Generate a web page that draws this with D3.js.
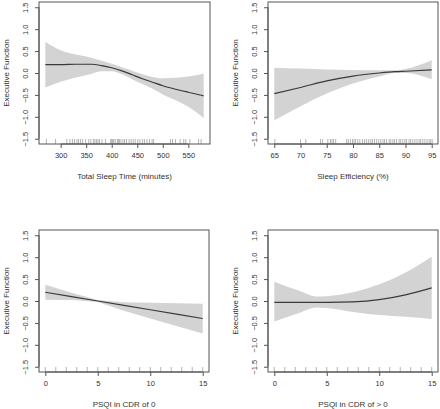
<!DOCTYPE html>
<html>
<head>
<meta charset="utf-8">
<script src="https://cdn.jsdelivr.net/npm/d3@7"></script>
<style>
html,body{margin:0;padding:0;background:#fff;}
svg{display:block;font-family:"Liberation Sans",Arial,Helvetica,sans-serif;}
</style>
</head>
<body>
<svg id="chart" width="440" height="409"></svg>
<script>
// ---------- Data ----------
const yTicks = [-1.5, -1.0, -0.5, 0.0, 0.5, 1.0, 1.5];
const yTitle = "Executive Function";

// Panel 1: Total Sleep Time
const tstX     = [270, 300, 330, 360, 380, 400, 420, 440, 460, 480, 500, 525, 550, 580];
const tstFit   = [0.19, 0.19, 0.20, 0.20, 0.17, 0.12, 0.05, -0.04, -0.13, -0.21, -0.29, -0.37, -0.44, -0.52];
const tstHi    = [0.71, 0.52, 0.42, 0.35, 0.28, 0.21, 0.13, 0.05, -0.03, -0.09, -0.12, -0.11, -0.08, -0.01];
const tstLo    = [-0.33, -0.20, -0.10, -0.02, 0.04, 0.04, -0.03, -0.14, -0.25, -0.36, -0.49, -0.62, -0.77, -1.03];
const tstRug   = [272, 290, 312, 318, 323, 327, 332, 335, 339, 343, 349, 355, 359, 364, 367, 370, 373, 376, 381, 388,
                  398, 400, 402, 404, 407, 411, 413, 415, 418, 422, 425, 429, 434, 438, 442, 446, 451, 455, 460, 464,
                  469, 474, 479, 482, 515, 519, 525, 534, 541, 545, 553, 570, 575];
const tstTicks = [300, 350, 400, 450, 500, 550];
const tstTitle = "Total Sleep Time (minutes)";

// Panel 2: Sleep Efficiency
const seX     = [65, 70, 75, 80, 85, 88, 90, 95];
const seFit   = [-0.47, -0.33, -0.18, -0.07, 0.00, 0.03, 0.04, 0.07];
const seHi    = [0.12, 0.10, 0.08, 0.07, 0.06, 0.06, 0.09, 0.29];
const seLo    = [-1.08, -0.76, -0.47, -0.24, -0.08, 0.00, 0.00, -0.14];
const seRug   = [65.1, 70.0, 71.0, 73.8, 74.2, 75.2, 75.7, 76.0, 76.3, 76.7, 78.8, 79.1, 79.5, 79.9, 80.2, 80.5, 80.9,
                 81.3, 81.8, 82.2, 82.6, 83.0, 83.4, 83.7, 84.1, 84.5, 84.9, 85.3, 85.7, 86.0, 86.4, 86.9, 87.2, 87.6,
                 87.9, 88.3, 88.8, 89.1, 89.5, 89.9, 90.2, 90.7, 91.0, 91.4, 91.8, 92.2, 92.6, 92.9, 93.3, 93.7, 94.1,
                 94.5, 94.8, 95.1];
const seTicks = [65, 70, 75, 80, 85, 90, 95];
const seTitle = "Sleep Efficiency (%)";

// Panel 3: PSQI in CDR of 0
const p0X     = [0, 2.5, 5, 7.5, 10, 12.5, 15];
const p0Fit   = [0.20, 0.10, 0.00, -0.10, -0.20, -0.30, -0.40];
const p0Hi    = [0.37, 0.19, 0.02, -0.03, -0.04, -0.05, -0.06];
const p0Lo    = [0.03, 0.02, -0.02, -0.22, -0.40, -0.57, -0.74];
const p0Rug   = [0, 1, 2, 3, 4, 5, 6, 7, 8, 9, 10, 11, 12, 13, 14, 15];
const p0Ticks = [0, 5, 10, 15];
const p0Title = "PSQI in CDR of 0";

// Panel 4: PSQI in CDR of > 0
const p1X     = [0, 2.5, 4, 5, 7.5, 10, 12.5, 15];
const p1Fit   = [-0.03, -0.03, -0.03, -0.03, -0.02, 0.03, 0.14, 0.30];
const p1Hi    = [0.44, 0.22, 0.10, 0.11, 0.20, 0.38, 0.65, 1.01];
const p1Lo    = [-0.47, -0.26, -0.15, -0.16, -0.25, -0.32, -0.36, -0.41];
const p1Rug   = [0, 1, 2, 3, 4, 5, 6, 7, 8, 9, 10, 11, 12, 13, 14, 15];
const p1Ticks = [0, 5, 10, 15];
const p1Title = "PSQI in CDR of > 0";

// ---------- Drawing ----------
const svg = d3.select("#chart");
const boxCol = "#555", textCol = "#333";

function pad(ext) { const d = (ext[1] - ext[0]) * 0.04; return [ext[0] - d, ext[1] + d]; }

function panel(cfg) {
  const {left, right, top, bottom, xs, fit, hi, lo, rug, xTicks, xTitle, curve} = cfg;
  const x = d3.scaleLinear().domain(pad(d3.extent(xs))).range([left, right]);
  const y = d3.scaleLinear().domain(pad([-1.5, 1.5])).range([bottom, top]);
  const g = svg.append("g");
  const pts = xs.map((v, i) => ({x: v, f: fit[i], h: hi[i], l: lo[i]}));

  g.append("path").datum(pts)
    .attr("d", d3.area().x(d => x(d.x)).y0(d => y(d.l)).y1(d => y(d.h)).curve(curve))
    .attr("fill", "#d3d3d3");
  g.append("path").datum(pts)
    .attr("d", d3.line().x(d => x(d.x)).y(d => y(d.f)).curve(curve))
    .attr("fill", "none").attr("stroke", "#3a3a3a").attr("stroke-width", 1.2);

  // rug
  g.selectAll("line.rug").data(rug).join("line")
    .attr("x1", d => x(d)).attr("x2", d => x(d))
    .attr("y1", bottom).attr("y2", bottom - 5)
    .attr("stroke", "#444").attr("stroke-width", 0.5).attr("stroke-opacity", 0.8);

  // box
  g.append("rect").attr("x", left).attr("y", top)
    .attr("width", right - left).attr("height", bottom - top)
    .attr("fill", "none").attr("stroke", boxCol).attr("stroke-width", 1);

  // x axis
  const xa = g.append("g").attr("transform", `translate(0,${bottom})`)
    .call(d3.axisBottom(x).tickValues(xTicks).tickFormat(d3.format("d")).tickSize(4).tickPadding(5));
  xa.select(".domain").attr("d", `M${x(xTicks[0])},0H${x(xTicks[xTicks.length - 1])}`).attr("stroke", boxCol);
  xa.selectAll(".tick line").attr("stroke", boxCol);
  xa.selectAll(".tick text").attr("fill", textCol).attr("font-size", 7.5).attr("font-family", "Liberation Sans, Arial, sans-serif");

  // y axis
  const ya = g.append("g").attr("transform", `translate(${left},0)`)
    .call(d3.axisLeft(y).tickValues(yTicks).tickFormat(d3.format(".1f")).tickSize(4));
  ya.select(".domain").attr("d", `M0,${y(yTicks[0])}V${y(yTicks[yTicks.length - 1])}`).attr("stroke", boxCol);
  ya.selectAll(".tick line").attr("stroke", boxCol);
  ya.selectAll(".tick text")
    .attr("x", null).attr("dy", null)
    .attr("transform", "translate(-14,0) rotate(-90)")
    .attr("text-anchor", "middle").attr("dominant-baseline", "central")
    .attr("fill", textCol).attr("font-size", 7.5).attr("font-family", "Liberation Sans, Arial, sans-serif");

  // titles
  g.append("text").attr("x", (left + right) / 2).attr("y", bottom + 32)
    .attr("text-anchor", "middle").attr("dominant-baseline", "central")
    .attr("font-size", 8).attr("fill", textCol).text(xTitle);
  g.append("text").attr("transform", `translate(${left - 33},${(top + bottom) / 2}) rotate(-90)`)
    .attr("text-anchor", "middle").attr("dominant-baseline", "central")
    .attr("font-size", 8).attr("fill", textCol).text(yTitle);
}

panel({left: 39, right: 210, top: 2, bottom: 144, xs: tstX, fit: tstFit, hi: tstHi, lo: tstLo,
       rug: tstRug, xTicks: tstTicks, xTitle: tstTitle, curve: d3.curveMonotoneX});
panel({left: 268, right: 438, top: 2, bottom: 144, xs: seX, fit: seFit, hi: seHi, lo: seLo,
       rug: seRug, xTicks: seTicks, xTitle: seTitle, curve: d3.curveMonotoneX});
panel({left: 39, right: 209, top: 230, bottom: 372, xs: p0X, fit: p0Fit, hi: p0Hi, lo: p0Lo,
       rug: p0Rug, xTicks: p0Ticks, xTitle: p0Title, curve: d3.curveLinear});
panel({left: 268, right: 438, top: 230, bottom: 372, xs: p1X, fit: p1Fit, hi: p1Hi, lo: p1Lo,
       rug: p1Rug, xTicks: p1Ticks, xTitle: p1Title, curve: d3.curveMonotoneX});
</script>
</body>
</html>
